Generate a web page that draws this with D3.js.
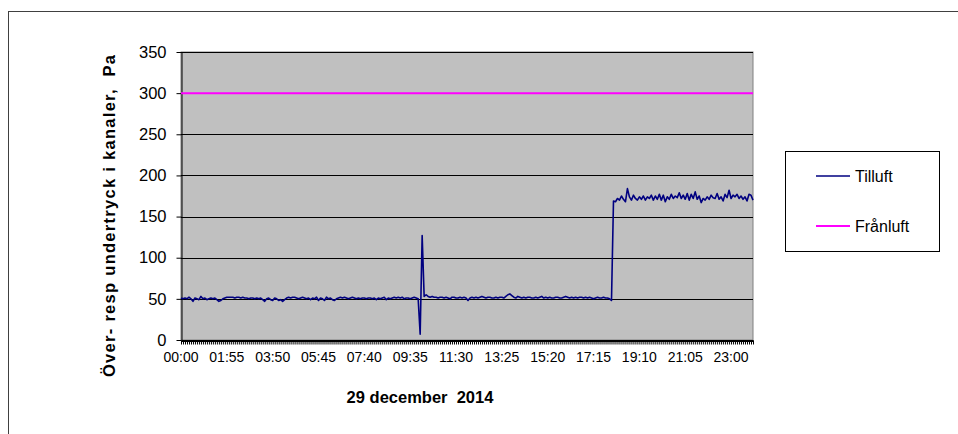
<!DOCTYPE html>
<html>
<head>
<meta charset="utf-8">
<script src="https://cdn.jsdelivr.net/npm/d3@7"></script>
<style>
  html, body { margin: 0; padding: 0; background: #fff; }
  svg { display: block; font-family: Arial, "Liberation Sans", sans-serif; }
</style>
</head>
<body>
<svg id="chart" width="958" height="434"></svg>
<script>
// ---- data ----
const seriesNames = ["Tilluft", "Frånluft"];
const tickLabels = ["00:00","01:55","03:50","05:45","07:40","09:35","11:30","13:25","15:20","17:15","19:10","21:05","23:00"];
const yTicks = [0, 50, 100, 150, 200, 250, 300, 350];

// Tilluft, 5-minute readings 00:00 .. 23:55
const tilluftLow = [
  51,50,51,50,52,50,47,51,50,49, 53,50,51,49,50,51,50,51,49,47,
  48,50,51,52,52,52,52,51,52,52, 51,52,51,51,50,51,51,50,51,50,
  51,49,47,50,51,49,48,51,50,48, 49,47,49,51,52,51,52,52,51,50,
  51,52,51,50,51,49,51,50,52,48, 51,50,48,52,50,51,49,48,50,51,
  52,51,52,51,50,51,52,51,50,51, 50,51,51,50,51,51,50,51,49,51,
  50,51,52,49,51,50,51,52,51,52, 51,52,50,51,51,50,51,52,51,50
];
const tilluftSpike = [7, 127];
const tilluftMid = [
  53,55,53,52,53,52,52,51,52,52,
  51,52,51,50,52,52,51,51,52,51,
  52,51,48,51,52,51,52,51,52,53,
  52,51,52,52,51,51,52,51,52,52,
  51,53,55,56,54,52,51,53,52,51,
  52,51,52,52,51,51,52,51,52,53,
  51,52,51,52,51,51,52,52,51,51,
  52,53,52,51,52,51,52,51,52,52,
  51,52,51,52,51,50,51,52,51,51,
  52,51,51,50,48
];
const tilluftHigh = [
  169,168,172,170,175,171,168,184,174,170,
  176,172,170,174,171,175,170,174,172,176,
  170,175,171,177,170,176,168,174,171,177,
  172,175,173,179,172,176,171,178,170,177,
  172,180,171,175,167,172,170,174,171,176,
  173,172,178,171,174,169,177,173,182,172,
  176,174,177,172,175,171,174,169,177,176,
  170
];
const tilluft = [].concat(tilluftLow, tilluftSpike, tilluftMid, tilluftHigh);
const franluftLevel = 300;
const franluft = tilluft.map(() => franluftLevel);

// categories: 5-minute timestamps
const times = tilluft.map((_, i) => {
  const m = i * 5;
  return String(Math.floor(m / 60)).padStart(2, "0") + ":" + String(m % 60).padStart(2, "0");
});

const colors = { "Tilluft": "#000080", "Frånluft": "#FF00FF" };

// ---- layout ----
const svg = d3.select("#chart");
const plot = { left: 181, right: 753, top: 52, bottom: 340 };

// outer chart border
svg.append("rect")
  .attr("x", 8.5).attr("y", 11.5)
  .attr("width", 980).attr("height", 460)
  .attr("fill", "#fff").attr("stroke", "#404040").attr("stroke-width", 1);

const x = d3.scalePoint().domain(times).range([plot.left, plot.right]);
const y = d3.scaleLinear().domain([0, 350]).range([plot.bottom, plot.top]);

// plot area background
svg.append("rect")
  .attr("x", plot.left).attr("y", plot.top)
  .attr("width", plot.right - plot.left).attr("height", plot.bottom - plot.top)
  .attr("fill", "#C0C0C0").attr("stroke", "#808080").attr("stroke-width", 1);

// gridlines
svg.append("g").selectAll("line")
  .data(yTicks.filter(d => d > 0))
  .join("line")
  .attr("x1", plot.left).attr("x2", plot.right)
  .attr("y1", d => Math.round(y(d)) + 0.5).attr("y2", d => Math.round(y(d)) + 0.5)
  .attr("stroke", "#000").attr("stroke-width", 1);

// y axis
const yAxis = svg.append("g")
  .attr("transform", `translate(${plot.left + 0.5},0)`)
  .call(d3.axisLeft(y).tickValues(yTicks).tickSize(5).tickPadding(10).tickSizeOuter(0));
yAxis.select(".domain").attr("stroke", "#000");
yAxis.selectAll(".tick line").attr("stroke", "#000");
yAxis.selectAll(".tick text")
  .attr("font-size", "16.5px").attr("fill", "#000")
  .attr("font-family", "Arial, 'Liberation Sans', sans-serif");

// x axis: tick at every category, labels every 23rd
const xAxis = svg.append("g")
  .attr("transform", `translate(0,${plot.bottom + 0.5})`)
  .call(d3.axisBottom(x).tickSize(4).tickSizeOuter(0).tickFormat(() => ""));
xAxis.select(".domain").attr("stroke", "#000").attr("stroke-width", 2);
xAxis.selectAll(".tick line").attr("stroke", "#000");

svg.append("g").selectAll("text")
  .data(tickLabels)
  .join("text")
  .attr("x", d => x(d))
  .attr("y", plot.bottom + 22)
  .attr("text-anchor", "middle")
  .attr("font-size", "14px")
  .attr("fill", "#000")
  .text(d => d);

// lines
const line = d3.line().x((d, i) => x(times[i])).y(d => y(d));
svg.append("path")
  .datum(franluft)
  .attr("d", line)
  .attr("fill", "none").attr("stroke", colors["Frånluft"]).attr("stroke-width", 2);
svg.append("path")
  .datum(tilluft)
  .attr("d", line)
  .attr("fill", "none").attr("stroke", colors["Tilluft"]).attr("stroke-width", 1.6)
  .attr("stroke-linejoin", "round");

// axis titles
svg.append("text")
  .attr("transform", "translate(115,216) rotate(-90)")
  .attr("text-anchor", "middle")
  .attr("font-size", "16.5px").attr("font-weight", "bold").attr("fill", "#000")
  .attr("textLength", 322).attr("lengthAdjust", "spacing")
  .style("white-space", "pre")
  .text("Över- resp undertryck i kanaler,  Pa");

svg.append("text")
  .attr("x", 420).attr("y", 403)
  .attr("text-anchor", "middle")
  .attr("font-size", "16.5px").attr("font-weight", "bold").attr("fill", "#000")
  .style("white-space", "pre")
  .text("29 december  2014");

// legend
const legend = svg.append("g");
legend.append("rect")
  .attr("x", 785.5).attr("y", 151.5).attr("width", 154).attr("height", 100)
  .attr("fill", "#fff").attr("stroke", "#000").attr("stroke-width", 1);
const legendRows = legend.selectAll("g.row")
  .data(seriesNames)
  .join("g")
  .attr("class", "row")
  .attr("transform", (d, i) => `translate(0,${176 + i * 50})`);
legendRows.append("line")
  .attr("x1", 816).attr("x2", 850).attr("y1", 0).attr("y2", 0)
  .attr("stroke", d => colors[d]).attr("stroke-width", d => d === "Tilluft" ? 1.5 : 2);
legendRows.append("text")
  .attr("x", 855).attr("y", 6)
  .attr("font-size", "16px").attr("fill", "#000")
  .text(d => d);
</script>
</body>
</html>
